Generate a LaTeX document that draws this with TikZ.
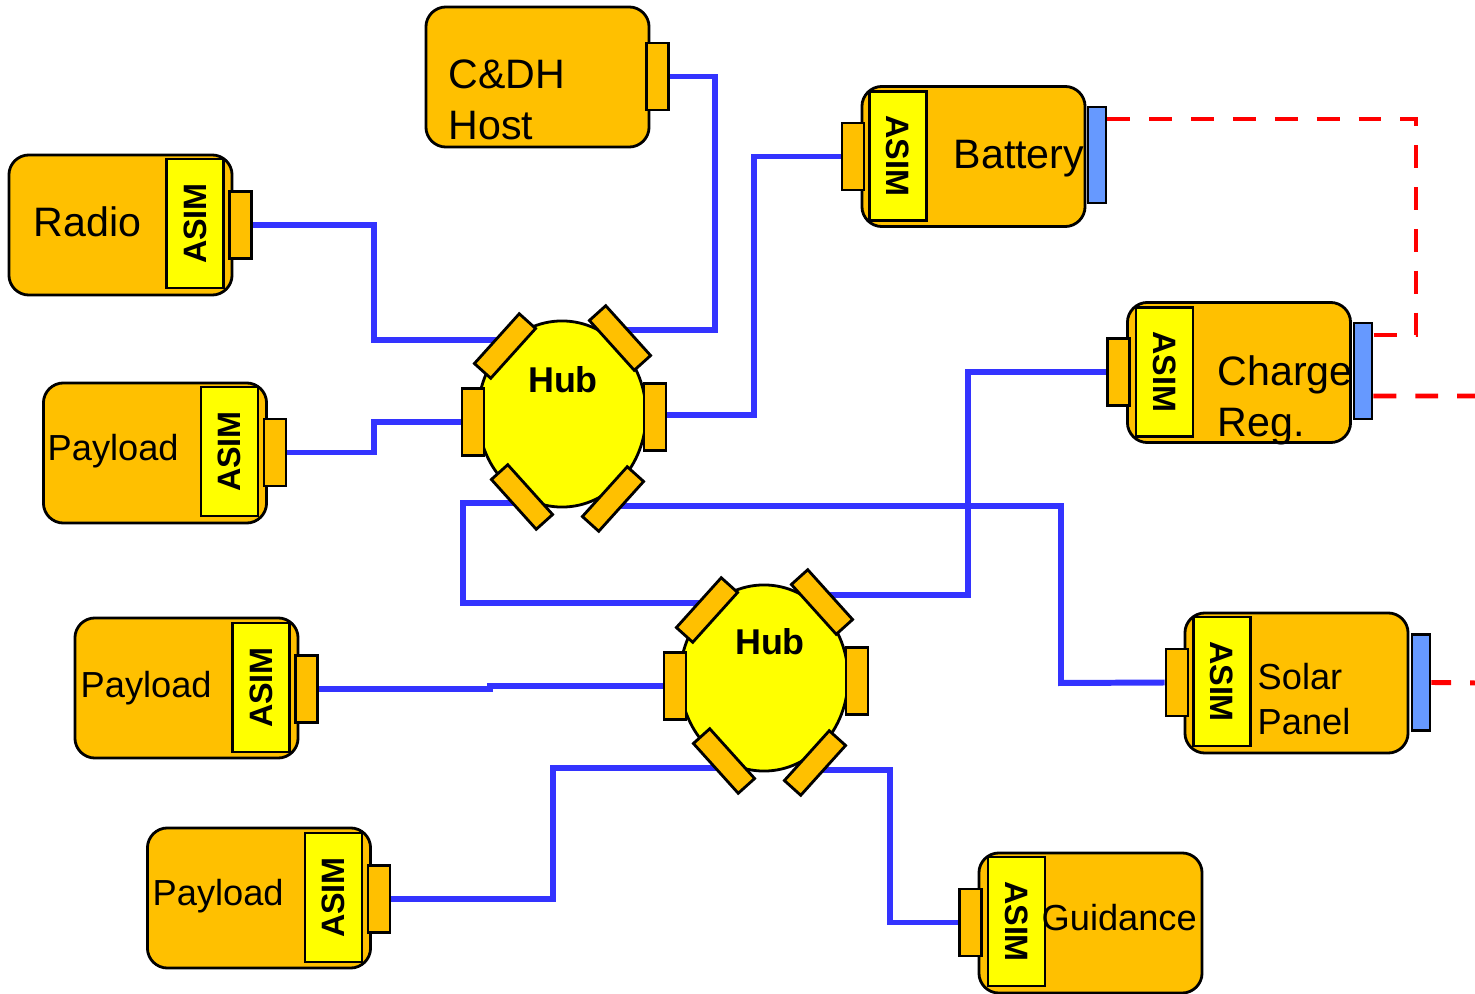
\documentclass[tikz,border=0pt]{standalone}
\usepackage{fontspec}
\setmainfont{Liberation Sans}
\usepackage{tikz}
\usetikzlibrary{shapes.geometric}
\usetikzlibrary{backgrounds}

\definecolor{unitfill}{HTML}{FFC000}
\definecolor{asimfill}{HTML}{FFFF00}
\definecolor{busblue}{HTML}{3333FF}
\definecolor{tipblue}{HTML}{6699FF}

\tikzset{
  unit/.style={draw, line width=0.8pt, fill=unitfill, rounded corners=0.2cm,
    minimum width=2.23cm, minimum height=1.4cm, inner sep=0pt},
  asim/.style={draw, line width=0.8pt, fill=asimfill, minimum width=1.29cm,
    minimum height=0.57cm, inner sep=0pt, font=\fontsize{9.2}{10}\selectfont\bfseries},
  port/.style={draw, line width=0.8pt, fill=unitfill, minimum width=0.22cm,
    minimum height=0.67cm, inner sep=0pt},
  tip/.style={draw, line width=0.8pt, fill=tipblue, minimum width=0.18cm,
    minimum height=0.96cm, inner sep=0pt},
  hubbody/.style={ellipse, draw, line width=0.8pt, fill=asimfill,
    minimum width=1.68cm, minimum height=1.86cm, inner sep=0pt},
  hubtext/.style={inner sep=0pt, font=\fontsize{10.2}{12}\selectfont\bfseries},
  bigtext/.style={inner sep=0pt, align=left, font=\fontsize{11.7}{14.5}\selectfont},
  smalltext/.style={inner sep=0pt, align=left, font=\fontsize{10.3}{12.8}\selectfont},
  bus/.style={busblue, line width=1.7pt},
  power/.style={red, line width=1.4pt, dash pattern=on 6.5pt off 5.4pt}
}

\begin{document}
\begin{tikzpicture}[x=0.01cm, y=-0.01cm]
    \useasboundingbox (0,0) rectangle (1475,994);

    % C&DH Host
    \node[unit] (cdh) at (537.5,77) {};
    \node[port] (cdhport) at (657.5,76.5) {};
    \node[bigtext, anchor=west] at (448,100) {C\&DH\\Host};

    % Radio
    \node[unit] (radio) at (120.5,225) {};
    \node[asim, rotate=90] (radioasim) at (195,223.5) {ASIM};
    \node[port] (radioport) at (240.5,225) {};
    \node[bigtext, anchor=base west] at (33,237) {Radio};

    % Payloads
    \node[unit] (pay1) at (155,453) {};
    \node[asim, rotate=90] (pay1asim) at (229.5,451.5) {ASIM};
    \node[port] (pay1port) at (275,452.5) {};
    \node[smalltext, anchor=base west] at (47,460) {Payload};

    \node[unit] (pay2) at (186.5,688) {};
    \node[asim, rotate=90] (pay2asim) at (261,687.5) {ASIM};
    \node[port] (pay2port) at (306.5,689) {};
    \node[smalltext, anchor=base west] at (80,697) {Payload};

    \node[unit] (pay3) at (259,898) {};
    \node[asim, rotate=90] (pay3asim) at (333.5,897.5) {ASIM};
    \node[port] (pay3port) at (379,899) {};
    \node[smalltext, anchor=base west] at (152,905) {Payload};

    % Battery
    \node[unit] (batt) at (973.5,156.5) {};
    \node[asim, rotate=-90] (battasim) at (898,156) {ASIM};
    \node[port] (battport) at (853,156.5) {};
    \node[tip] (batttip) at (1097,155) {};
    \node[bigtext, anchor=base west] at (953,169) {Battery};

    % Charge Reg.
    \node[unit] (chg) at (1239,372.5) {};
    \node[asim, rotate=-90] (chgasim) at (1164.5,372) {ASIM};
    \node[port] (chgport) at (1118.5,372) {};
    \node[bigtext, anchor=west] at (1217,400.5) {Charge\\Reg.};
    \node[tip] (chgtip) at (1363,371) {};

    % Solar Panel
    \node[unit] (solar) at (1296.5,683) {};
    \node[asim, rotate=-90] (solarasim) at (1222,681.5) {ASIM};
    \node[port] (solarport) at (1177,682.5) {};
    \node[tip] (solartip) at (1421,682.5) {};
    \node[smalltext, anchor=west] at (1257,699.5) {Solar\\Panel};

    % Guidance
    \node[unit] (guid) at (1090.5,923) {};
    \node[asim, rotate=-90] (guidasim) at (1016.5,921.5) {ASIM};
    \node[port] (guidport) at (970.5,922.5) {};
    \node[smalltext, anchor=base west] at (1041,930) {Guidance};

    % Hubs
    \foreach \h/\pos/\lbl in {1/{562,414}/{1,-21}, 2/{764,678}/{6,-24}}{
        \begin{scope}[shift={(\pos)}]
            \node[hubbody] (h\h) {};
            \node[hubtext, anchor=base] at (\lbl) {Hub};
            \node[port] (h\h w) at (-89,8) {};
            \node[port] (h\h e) at (93,3) {};
            \node[port, rotate=-42] (h\h nw) at (-57,-68) {};
            \node[port, rotate=42] (h\h ne) at (58,-76) {};
            \node[port, rotate=42] (h\h sw) at (-40,83) {};
            \node[port, rotate=-42] (h\h se) at (51,85) {};
        \end{scope}
    }

    % Datenbus
    \begin{pgfonlayer}{background}
        \draw[bus] (cdhport.east) -| (715,330) -- (h1ne |- 0,330);
        \draw[bus] (radioport.east) -| (374,340) -- (h1nw |- 0,340);
        \draw[bus] (pay1port.east) -| (374,422) -- (h1w);
        \draw[bus] (battport.west) -| (754,415) -- (h1e |- 0,415);
        \draw[bus] (h1sw |- 0,503) -| (463,603) -- (h2nw |- 0,603);
        \draw[bus] (h1se |- 0,506) -| (1061,683) -- (solarport.west);
        \draw[bus] (chgport.west) -| (968,595) -- (h2ne |- 0,595);
        \draw[bus] (pay2port.east) -- (pay2port.east -| 490,0) |- (h2w);
        \draw[bus] (pay3port.east) -| (553,768) -- (h2sw |- 0,768);
        \draw[bus] (guidport.west) -| (890,770) -- (h2se |- 0,770);
    \end{pgfonlayer}

    % Energieversorgung
    \draw[power] (batttip.east |- 0,119) -| (1416,335) -- (chgtip.east |- 0,335);
    \draw[power] (chgtip.east |- 0,396) -| (1478,683) -- (solartip.east);
\end{tikzpicture}
\end{document}
